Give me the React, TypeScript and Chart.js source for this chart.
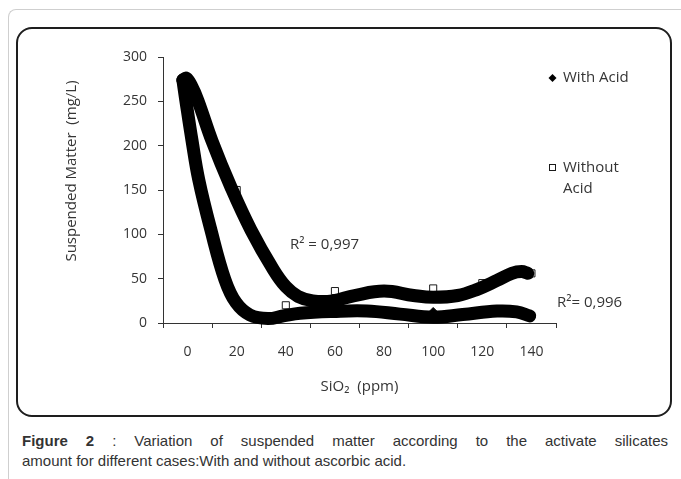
import React, { useEffect, useRef } from 'react';
import { Chart, registerables } from 'chart.js';

Chart.register(...registerables);

// ---- data ----
const xTicks = [0, 20, 40, 60, 80, 100, 120, 140];
const yTicks = [0, 50, 100, 150, 200, 250, 300];

const withAcid = [271, 18, 8, 12, 12, 13, 10, 9];
const withoutAcid = [270, 150, 20, 36, 34, 39, 45, 56];

// polynomial trend lines (R²)
const withAcidTrendX = [-1.9, -0.7, 1.8, 4.6, 9.5, 15.2, 19.7, 25.4, 32.7, 39, 45.8, 59.2, 73, 86.5, 100, 112, 126, 134, 139.3];
const withAcidTrendY = [274, 251, 206, 161, 105, 49, 23, 9, 5, 8, 11, 13, 13.5, 10, 6.5, 9.5, 13.5, 12.5, 8];

const withoutAcidTrendX = [-1.9, -0.5, 1.5, 4.2, 10, 17.7, 25.8, 35, 40, 45, 51, 59, 68, 80, 92, 100, 110, 118, 126, 132, 136, 138.5];
const withoutAcidTrendY = [274, 276, 268, 251, 205, 153, 105, 60, 41, 30, 25, 25, 31, 36, 31, 29, 31, 38, 48, 56, 58, 56];

const seriesNames = ['With Acid', 'Without Acid'];
const r2Labels = ['R² = 0,997', 'R²= 0,996'];
const yTitle = 'Suspended Matter  (mg/L)';
const xTitle = 'SiO₂  (ppm)';

const textColor = '#353535';
const fontFamily = '"Open Sans", "DejaVu Sans", sans-serif';

const annotations = {
  id: 'annotations',
  afterDraw(chart: any) {
    const ctx = chart.ctx;
    ctx.save();
    ctx.fillStyle = textColor;
    ctx.textBaseline = 'middle';
    ctx.textAlign = 'left';
    ctx.font = `15px ${fontFamily}`;

    // legend: With Acid (diamond)
    ctx.fillStyle = '#000';
    ctx.beginPath();
    ctx.moveTo(533.5 - 4, 48);
    ctx.lineTo(533.5, 48 - 4);
    ctx.lineTo(533.5 + 4, 48);
    ctx.lineTo(533.5, 48 + 4);
    ctx.closePath();
    ctx.fill();
    ctx.fillStyle = textColor;
    ctx.fillText(seriesNames[0], 544, 48);

    // legend: Without Acid (hollow square)
    ctx.fillStyle = '#fff';
    ctx.strokeStyle = '#1a1a1a';
    ctx.lineWidth = 1;
    ctx.fillRect(530, 134, 7, 7);
    ctx.strokeRect(530.5, 134.5, 6, 6);
    ctx.fillStyle = textColor;
    const parts = seriesNames[1].split(' ');
    ctx.fillText(parts[0], 544, 138);
    ctx.fillText(parts[1], 544, 159);

    // R² labels
    ctx.fillText(r2Labels[0], 271, 215);
    ctx.fillText(r2Labels[1], 538, 273);

    // y axis title
    ctx.translate(53, 141);
    ctx.rotate(-Math.PI / 2);
    ctx.textAlign = 'center';
    ctx.fillText(yTitle, 0, 0);
    ctx.restore();
  },
};

export default function App() {
  const canvasRef = useRef<HTMLCanvasElement>(null);

  useEffect(() => {
    const trendCommon = {
      showLine: true,
      borderColor: '#000',
      backgroundColor: '#000',
      borderWidth: 13,
      pointRadius: 0,
      pointHoverRadius: 0,
      tension: 0.4,
      borderCapStyle: 'round' as const,
      borderJoinStyle: 'round' as const,
      clip: false as const,
      order: 0,
    };
    const chart = new Chart(canvasRef.current!, {
      type: 'scatter',
      data: {
        datasets: [
          {
            ...trendCommon,
            label: seriesNames[0] + ' trend',
            data: withAcidTrendX.map((x, i) => ({ x, y: withAcidTrendY[i] })),
          },
          {
            ...trendCommon,
            label: seriesNames[1] + ' trend',
            data: withoutAcidTrendX.map((x, i) => ({ x, y: withoutAcidTrendY[i] })),
          },
          {
            label: seriesNames[0],
            data: xTicks.map((x, i) => ({ x, y: withAcid[i] })),
            pointStyle: 'rectRot',
            pointRadius: 4,
            backgroundColor: '#000',
            borderColor: '#000',
            borderWidth: 1,
            showLine: false,
            order: 1,
          },
          {
            label: seriesNames[1],
            data: xTicks.map((x, i) => ({ x, y: withoutAcid[i] })),
            pointStyle: 'rect',
            pointRadius: 5,
            backgroundColor: '#fff',
            borderColor: '#1a1a1a',
            borderWidth: 1,
            showLine: false,
            order: 1,
          },
        ],
      },
      options: {
        responsive: false,
        animation: false,
        devicePixelRatio: 1,
        events: [],
        layout: { padding: { left: 0, right: 113, top: 27, bottom: 0 } },
        plugins: {
          legend: { display: false },
          tooltip: { enabled: false },
        },
        scales: {
          x: {
            type: 'linear',
            min: -10,
            max: 150,
            afterBuildTicks: (s: any) => {
              s.ticks = xTicks.map((v) => ({ value: v }));
            },
            afterFit: (s: any) => {
              s.height = 90;
            },
            grid: {
              offset: true,
              drawOnChartArea: false,
              drawTicks: true,
              tickLength: 5,
              color: '#333',
            },
            border: { color: '#333', width: 1 },
            ticks: {
              padding: 16,
              color: textColor,
              font: { family: fontFamily, size: 14 },
              maxRotation: 0,
              autoSkip: false,
            },
            title: {
              display: true,
              text: xTitle,
              color: textColor,
              font: { family: fontFamily, size: 15 },
              padding: { top: 0, bottom: 17 },
            },
          },
          y: {
            type: 'linear',
            min: 0,
            max: 300,
            afterBuildTicks: (s: any) => {
              s.ticks = yTicks.map((v) => ({ value: v }));
            },
            afterFit: (s: any) => {
              s.width = 144;
            },
            grid: {
              drawOnChartArea: false,
              drawTicks: true,
              tickLength: 5,
              color: '#333',
            },
            border: { color: '#333', width: 1 },
            ticks: {
              padding: 11,
              color: textColor,
              font: { family: fontFamily, size: 14 },
            },
          },
        },
      },
      plugins: [annotations],
    });
    return () => chart.destroy();
  }, []);

  return (
    <div
      style={{
        position: 'absolute',
        left: 0,
        top: 0,
        width: 681,
        height: 479,
        overflow: 'hidden',
        background: '#fff',
      }}
    >
      <div
        style={{
          position: 'absolute',
          left: 8,
          top: 9,
          width: 720,
          height: 520,
          borderLeft: '1px solid #cfcfcf',
          borderTop: '1px solid #cfcfcf',
          borderTopLeftRadius: 8,
        }}
      />
      <div
        style={{
          position: 'absolute',
          left: 16,
          top: 27,
          width: 652,
          height: 386,
          border: '2px solid #1e1e1e',
          borderRadius: 16,
        }}
      />
      <canvas
        ref={canvasRef}
        width={650}
        height={383}
        style={{ position: 'absolute', left: 19, top: 30, width: 650, height: 383 }}
      />
      <div
        style={{
          position: 'absolute',
          left: 22,
          top: 431,
          width: 646,
          fontFamily: '"Liberation Sans", Arial, sans-serif',
          fontSize: 15,
          lineHeight: '20px',
          color: '#333',
        }}
      >
        <div style={{ textAlign: 'justify', textAlignLast: 'justify', whiteSpace: 'nowrap' as const }}>
          <b>Figure 2</b> : Variation of suspended matter according to the activate silicates
        </div>
        <div>amount for different cases:With and without ascorbic acid.</div>
      </div>
    </div>
  );
}
